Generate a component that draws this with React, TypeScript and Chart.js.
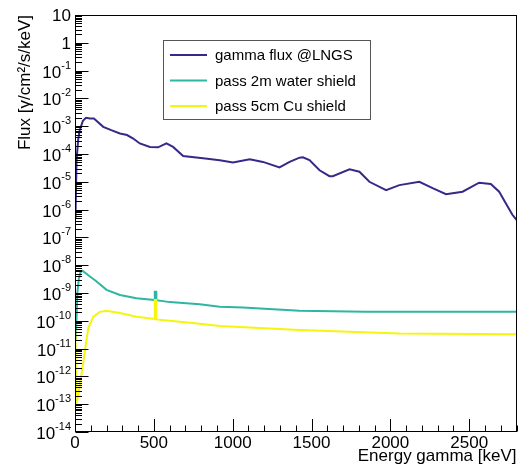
import React, { useEffect, useRef } from 'react';
import { Chart, registerables } from 'chart.js';

Chart.register(...registerables);

// ---- data (energy in keV, flux in 1/cm2/s/keV) ----
const gammaE = [3, 10, 20, 30, 50, 70, 95, 120, 179, 230, 285, 330, 369, 411, 475, 527, 580, 622, 686, 812, 918, 1002, 1108, 1192, 1297, 1361, 1424, 1445, 1487, 1551, 1614, 1635, 1741, 1804, 1867, 1973, 2057, 2184, 2268, 2353, 2458, 2563, 2637, 2690, 2732, 2774, 2800];
const gammaFlux = [5e-7, 6.3e-5, 3.2e-4, 7.2e-4, 1.55e-3, 2.0e-3, 1.9e-3, 1.9e-3, 9.5e-4, 7.2e-4, 5.5e-4, 4.8e-4, 3.6e-4, 2.4e-4, 1.8e-4, 1.74e-4, 2.4e-4, 1.8e-4, 8.5e-5, 7.1e-5, 6.0e-5, 5.0e-5, 6.5e-5, 5.2e-5, 3.3e-5, 5.2e-5, 7.4e-5, 7.6e-5, 6.0e-5, 2.6e-5, 1.6e-5, 1.6e-5, 2.8e-5, 2.3e-5, 1.0e-5, 5.0e-6, 7.6e-6, 1.0e-5, 5.9e-6, 3.6e-6, 4.4e-6, 9.3e-6, 8.3e-6, 4.4e-6, 1.7e-6, 6.5e-7, 4.3e-7];

const waterE = [3, 5, 15, 25, 35, 48, 60, 95, 137, 200, 285, 390, 505, 506, 515, 516, 601, 791, 918, 1065, 1424, 1846, 2266, 2800];
const waterFlux = [3.2e-11, 2e-11, 1e-9, 3.5e-9, 5.6e-9, 6.3e-9, 5.6e-9, 3.9e-9, 2.6e-9, 1.3e-9, 8.5e-10, 6.5e-10, 5.6e-10, 1.1e-9, 1.1e-9, 5.5e-10, 4.7e-10, 3.9e-10, 3.2e-10, 3.0e-10, 2.3e-10, 2.1e-10, 2.1e-10, 2.1e-10];

const cuE = [3, 8, 20, 42, 84, 116, 158, 200, 285, 390, 505, 506, 515, 516, 601, 791, 918, 1424, 2057, 2800];
const cuFlux = [4.7e-11, 1.1e-13, 1.9e-13, 1.3e-12, 5.4e-11, 1.4e-10, 2.1e-10, 2.3e-10, 1.9e-10, 1.4e-10, 1.15e-10, 5.6e-10, 5.6e-10, 1.12e-10, 1.0e-10, 7.8e-11, 6.5e-11, 4.7e-11, 3.5e-11, 3.3e-11];

const seriesLabels = ['gamma flux @LNGS', 'pass 2m water shield', 'pass 5cm Cu shield'];
const xTickValues = [0, 500, 1000, 1500, 2000, 2500];
const xMinorStep = 100;
const yTickExponents = [-14, -13, -12, -11, -10, -9, -8, -7, -6, -5, -4, -3, -2, -1, 0, 1];
const xTitle = 'Energy gamma [keV]';
const yTitle = 'Flux [γ/cm²/s/keV]';

const FONT = '"Liberation Sans", Arial, Helvetica, sans-serif';
const BLUE = '#352a87';
const TEAL = '#2fb5a3';
const YELLOW = '#f5f50e';

const rootPlugin = {
  id: 'rootStyle',
  afterDraw(chart: any) {
    const { ctx, chartArea: a, scales } = chart;
    const xs = scales.x;
    const ys = scales.y;
    ctx.save();
    ctx.strokeStyle = '#000';
    ctx.lineWidth = 1;
    const L = Math.round(a.left) + 0.5;
    const T = Math.round(a.top) + 0.5;
    const R = Math.round(a.right) - 0.5;
    const B = Math.round(a.bottom) - 0.5;
    ctx.strokeRect(L, T, R - L, B - T);

    ctx.beginPath();
    for (const e of yTickExponents) {
      for (let k = 1; k <= 9; k++) {
        const v = k * Math.pow(10, e);
        if (v < ys.min * 0.999 || v > ys.max * 1.001) continue;
        const py = Math.round(ys.getPixelForValue(v)) + 0.5;
        const len = k === 1 ? 13 : 6.5;
        ctx.moveTo(L, py);
        ctx.lineTo(L + len, py);
      }
    }
    for (let v = 0; v <= xs.max; v += xMinorStep) {
      const px = Math.round(xs.getPixelForValue(v)) + 0.5;
      const len = xTickValues.includes(v) ? 12.5 : 6;
      ctx.moveTo(px, B);
      ctx.lineTo(px, B - len);
    }
    ctx.stroke();

    ctx.fillStyle = '#000';
    const labelRight = 71;
    for (const e of yTickExponents) {
      const py = ys.getPixelForValue(Math.pow(10, e));
      ctx.textBaseline = 'alphabetic';
      ctx.textAlign = 'right';
      if (e === 1 || e === 0) {
        ctx.font = `17px ${FONT}`;
        ctx.fillText(e === 1 ? '10' : '1', labelRight, py + 6);
      } else {
        const exp = '-' + Math.abs(e);
        ctx.font = `11px ${FONT}`;
        const w = ctx.measureText(exp).width;
        ctx.fillText(exp, labelRight, py - 2);
        ctx.font = `17px ${FONT}`;
        ctx.fillText('10', labelRight - w, py + 7);
      }
    }

    const lx = 163.5, ly = 40.5, lw = 207, lh = 79;
    ctx.fillStyle = '#fff';
    ctx.fillRect(lx, ly, lw, lh);
    ctx.strokeStyle = '#555';
    ctx.lineWidth = 1;
    ctx.strokeRect(lx, ly, lw, lh);
    const rows = [55, 80.5, 106];
    chart.data.datasets.forEach((ds: any, i: number) => {
      ctx.strokeStyle = ds.borderColor;
      ctx.lineWidth = 2;
      ctx.beginPath();
      ctx.moveTo(170, rows[i]);
      ctx.lineTo(207, rows[i]);
      ctx.stroke();
      ctx.fillStyle = '#000';
      ctx.font = `15px ${FONT}`;
      ctx.textAlign = 'left';
      ctx.textBaseline = 'middle';
      ctx.fillText(ds.label, 215, rows[i] + 1);
    });
    ctx.restore();
  },
};

function toPoints(xsArr: number[], ysArr: number[]) {
  return xsArr.map((x, i) => ({ x, y: ysArr[i] }));
}

export default function App() {
  const ref = useRef<HTMLCanvasElement | null>(null);
  useEffect(() => {
    if (!ref.current) return;
    const chart = new Chart(ref.current, {
      type: 'line',
      data: {
        datasets: [
          { label: seriesLabels[0], data: toPoints(gammaE, gammaFlux), borderColor: BLUE, borderWidth: 2, pointRadius: 0, fill: false, order: 2 },
          { label: seriesLabels[1], data: toPoints(waterE, waterFlux), borderColor: TEAL, borderWidth: 2, pointRadius: 0, fill: false, order: 1 },
          { label: seriesLabels[2], data: toPoints(cuE, cuFlux), borderColor: YELLOW, borderWidth: 2, pointRadius: 0, fill: false, order: 0 },
        ],
      },
      options: {
        animation: false,
        responsive: false,
        layout: { padding: { top: 15, right: 2.5, left: 0, bottom: 0 } },
        plugins: { legend: { display: false }, tooltip: { enabled: false } },
        scales: {
          x: {
            type: 'linear',
            min: 0,
            max: 2800,
            grid: { display: false, drawTicks: false },
            border: { display: false },
            afterBuildTicks: (s: any) => { s.ticks = xTickValues.map((v) => ({ value: v })); },
            ticks: {
              autoSkip: false,
              maxRotation: 0,
              padding: 1,
              color: '#000',
              font: { family: FONT, size: 17 },
              callback: (v: any) => String(v),
            },
            title: {
              display: true,
              text: xTitle,
              align: 'end',
              color: '#000',
              font: { family: FONT, size: 17 },
              padding: { top: 0, bottom: 2 },
            },
            afterFit: (s: any) => { s.height = 37; s.paddingRight = 0; s.paddingLeft = 0; },
          },
          y: {
            type: 'logarithmic',
            min: 1e-14,
            max: 10,
            grid: { display: false, drawTicks: false },
            border: { display: false },
            ticks: { display: false },
            title: {
              display: true,
              text: yTitle,
              align: 'end',
              color: '#000',
              font: { family: FONT, size: 17 },
              padding: { top: 15, bottom: 0 },
            },
            afterFit: (s: any) => { s.width = 75; },
          },
        },
      } as any,
      plugins: [rootPlugin],
    });
    return () => chart.destroy();
  }, []);
  return (
    <canvas
      ref={ref}
      width={519}
      height={469}
      style={{ position: 'absolute', left: 0, top: 0, display: 'block' }}
    />
  );
}
